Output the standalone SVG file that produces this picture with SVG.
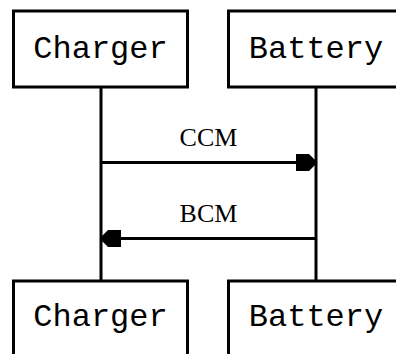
<svg xmlns="http://www.w3.org/2000/svg" width="396" height="354" viewBox="0 0 396 354">
<style>
.box{fill:#fff;stroke:#000;stroke-width:3}
.name{font-family:"Liberation Mono","Courier New",monospace;font-size:32px;fill:#000;text-anchor:middle}
.line{stroke:#000;stroke-width:3;fill:none}
.lbl{font-family:"Liberation Serif","Times New Roman",serif;font-size:26px;fill:#000;text-anchor:middle}
.head{fill:#000}
</style>
<rect width="396" height="354" fill="#fff"/>
<g id="connectors">
<line class="line" x1="101" y1="87" x2="101" y2="281"/>
<line class="line" x1="316" y1="87" x2="316" y2="281"/>
<line class="line" x1="101" y1="162.5" x2="300" y2="162.5"/>
<polygon class="head" points="296,154 309,154 315,160 315,165 309,171 296,171"/>
<text class="lbl" x="208.5" y="146">CCM</text>
<line class="line" x1="316" y1="238.5" x2="117" y2="238.5"/>
<polygon class="head" points="121,230 108,230 102,236 102,241 108,247 121,247"/>
<text class="lbl" x="208.5" y="222">BCM</text>
</g>
<g id="charger-top">
<rect class="box" x="13.5" y="11" width="174" height="76"/>
<text class="name" x="100.5" y="58">Charger</text>
</g>
<g id="battery-top">
<rect class="box" x="228.5" y="11" width="174" height="76"/>
<text class="name" x="316" y="58">Battery</text>
</g>
<g id="charger-bottom">
<rect class="box" x="13.5" y="281" width="174" height="76"/>
<text class="name" x="100.5" y="326">Charger</text>
</g>
<g id="battery-bottom">
<rect class="box" x="228.5" y="281" width="174" height="76"/>
<text class="name" x="316" y="326">Battery</text>
</g>
</svg>
